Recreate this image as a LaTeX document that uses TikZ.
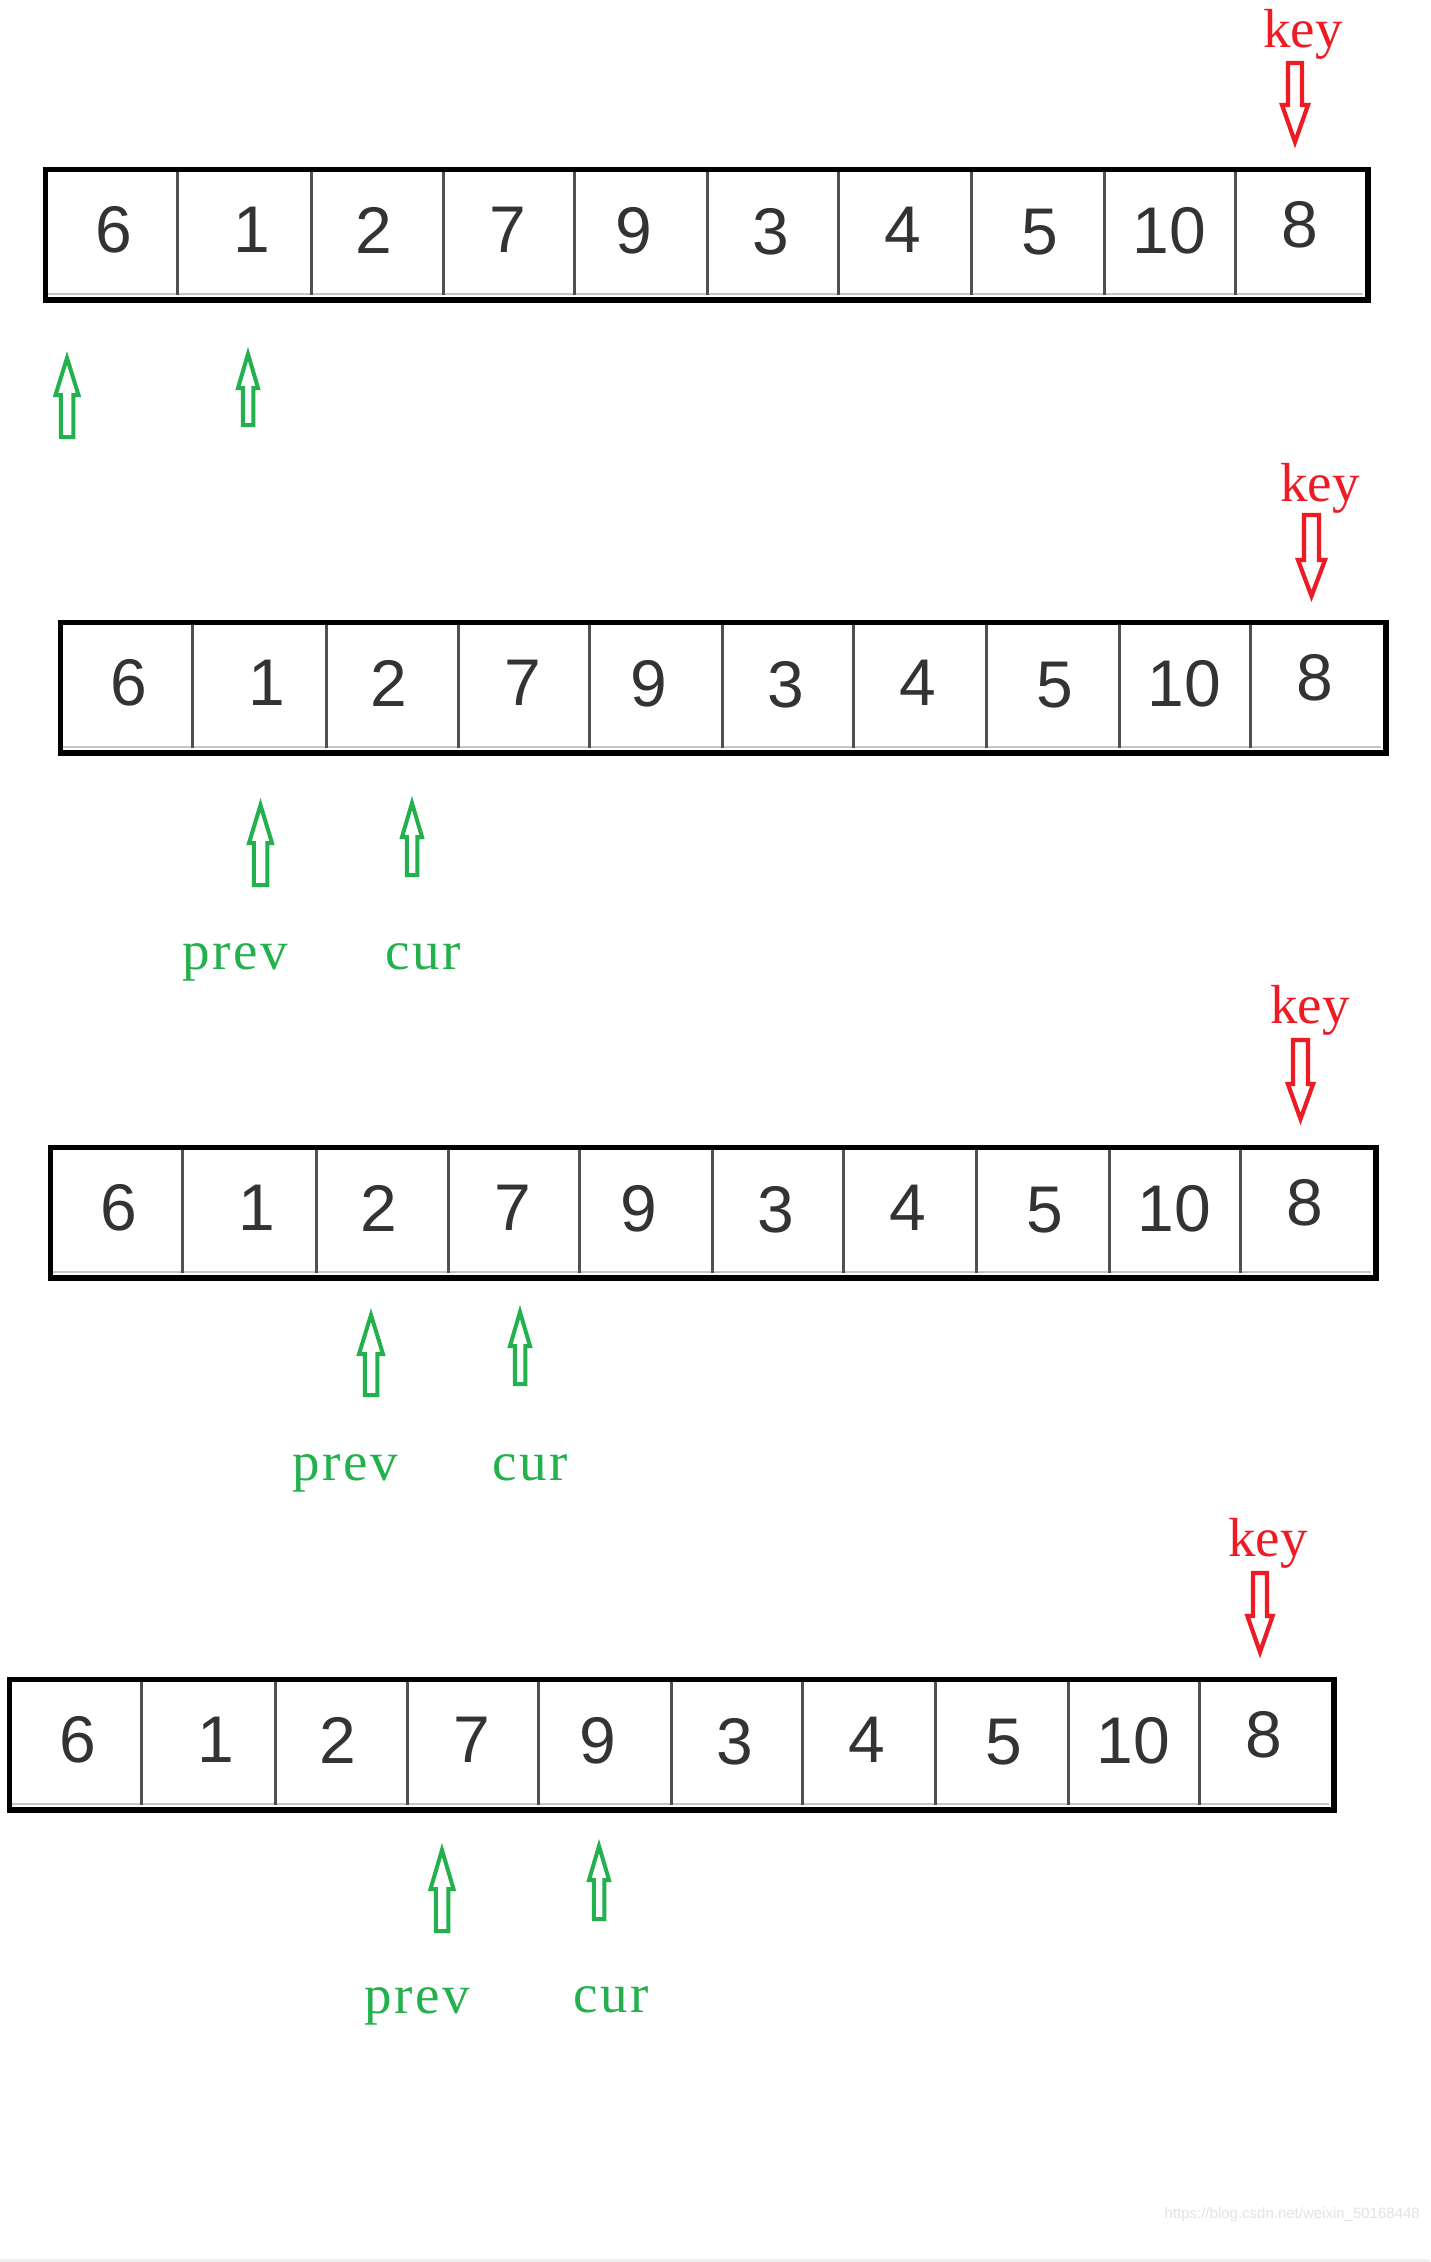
\documentclass[tikz,border=0pt]{standalone}
\usepackage{fontspec}
\setmainfont{Liberation Serif}
\newfontfamily\digitfont{Liberation Sans}
\newfontfamily\wmfont{Liberation Sans}
\newfontfamily\ptrfont[LetterSpace=5]{Liberation Serif}
\definecolor{keyred}{HTML}{ED1C24}
\definecolor{ptrgreen}{HTML}{22B14C}
\definecolor{digitgray}{HTML}{333333}
\definecolor{divgray}{HTML}{505050}
\tikzset{
  arrbox/.style={draw=black, line width=5.5pt, inner sep=0pt, anchor=north west},
  divline/.style={draw=divgray, line width=3pt},
  innerline/.style={draw=gray!45, line width=1.5pt},
  digit/.style={font=\digitfont\fontsize{66}{66}\selectfont, text=digitgray, inner sep=0pt},
  keylabel/.style={font=\fontsize{55}{55}\selectfont, text=keyred, inner sep=0pt, anchor=base},
  ptrlabel/.style={font=\ptrfont\fontsize{55}{55}\selectfont, text=ptrgreen, inner sep=0pt, anchor=base},
  redarrow/.style={draw=keyred, line width=4.2pt, line join=miter},
  greenarrow/.style={draw=ptrgreen, line width=4pt, line join=miter},
}
% style, x, y tail, y head base, y tip, head half width, shaft half width
\newcommand{\blockarrow}[7]{%
  \draw[#1] (#2-#7,#3) -- (#2-#7,#4) -- (#2-#6,#4) -- (#2,#5) -- (#2+#6,#4) -- (#2+#7,#4) -- (#2+#7,#3) -- cycle;
}
% name, left, top, width
\newcommand{\drawarray}[4]{%
  \draw[innerline] (#2+5,#3+130) -- (#2+#4-5,#3+130);
  \foreach \d in {137,271,403,534,667,798,931,1064,1195}
    \draw[divline] (#2+\d,#3+5) -- (#2+\d,#3+131);
  \node[arrbox, minimum width=#4-5.5, minimum height=130.5] (#1) at (#2+2.75,#3+2.75) {};
  \foreach \v/\cx/\cy [count=\i] in {6/73.6/66,1/212/66,2/333.6/66,7/467.7/66,9/593.6/67,3/730.5/68,4/862.8/66,5/999.6/68,10/1129/67,8/1259.7/61}
    \node[digit] (#1-\i) at (#2+\cx,#3+\cy) {\v};
}
\begin{document}
\begin{tikzpicture}[x=1pt,y=-1pt]
\useasboundingbox (0,0) rectangle (1430,2262);
\fill[white] (0,0) rectangle (1430,2262);
\fill[gray!12] (0,2259) rectangle (1430,2262);

% ---------- row 1 ----------
\drawarray{A}{40}{164}{1328}
\node[keylabel] (keyA) at (1303,47) {key};
\blockarrow{redarrow}{1295}{63}{105}{142}{13}{7}
\blockarrow{greenarrow}{67}{437}{395}{358}{11.5}{6.25}
\blockarrow{greenarrow}{248}{425}{388}{354}{10}{5.25}

% ---------- row 2 ----------
\drawarray{B}{55}{617}{1331}
\node[keylabel] (keyB) at (1320,501) {key};
\blockarrow{redarrow}{1311.5}{515}{560}{596}{13.5}{7.5}
\blockarrow{greenarrow}{260.5}{885}{843}{805}{11.5}{6.75}
\blockarrow{greenarrow}{412}{875}{837}{803}{10}{5.25}
\node[ptrlabel] (prevB) at (235,969) {prev};
\node[ptrlabel] (curB) at (423,969) {cur};

% ---------- row 3 ----------
\drawarray{C}{45}{1142}{1331}
\node[keylabel] (keyC) at (1310,1023) {key};
\blockarrow{redarrow}{1300.5}{1040}{1084}{1119}{12.6}{7.5}
\blockarrow{greenarrow}{371}{1395}{1354}{1315}{12}{6.25}
\blockarrow{greenarrow}{520}{1384}{1346}{1312}{10}{5.25}
\node[ptrlabel] (prevC) at (345,1480) {prev};
\node[ptrlabel] (curC) at (530,1480) {cur};

% ---------- row 4 ----------
\drawarray{D}{4}{1674}{1330}
\node[keylabel] (keyD) at (1268,1556) {key};
\blockarrow{redarrow}{1260}{1573}{1616}{1652}{12.6}{7}
\blockarrow{greenarrow}{442}{1931}{1889}{1850}{11.5}{6.25}
\blockarrow{greenarrow}{599}{1919}{1880}{1846}{10}{5.25}
\node[ptrlabel] (prevD) at (417,2013) {prev};
\node[ptrlabel] (curD) at (611,2012) {cur};

% ---------- watermark ----------
\node[font=\wmfont\fontsize{15}{15}\selectfont, text=gray!22, inner sep=0pt, anchor=east] (wm) at (1420,2215) {https://blog.csdn.net/weixin\_50168448};
\end{tikzpicture}
\end{document}
